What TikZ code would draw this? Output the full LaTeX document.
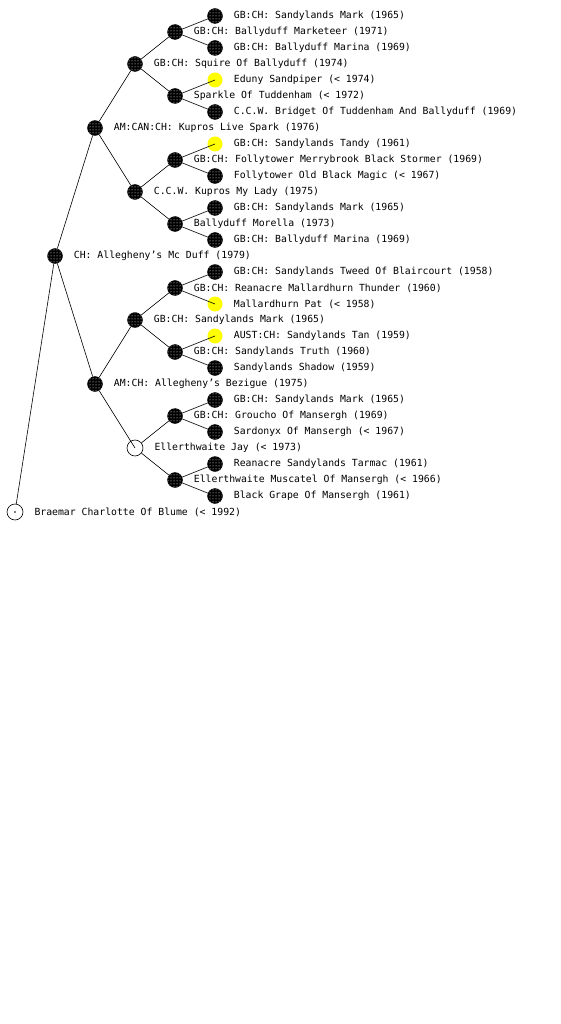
\documentclass[tikz,border=0pt]{standalone}
\usepackage{fontspec}
\newfontfamily\pedfont{DejaVu Sans Mono}
\usepackage{tikz}
\usetikzlibrary{positioning,patterns}
\usepackage{xcolor}
\definecolor{hiyellow}{RGB}{255,255,0}
\definecolor{dogblack}{RGB}{0,0,0}

\begin{document}
\begin{tikzpicture}[x=1pt,y=-1pt,
  dog/.style={circle,draw=dogblack,fill=dogblack,inner sep=0pt,minimum size=15pt,
    postaction={pattern=dots,pattern color=white}},
  dogy/.style={circle,fill=hiyellow,inner sep=0pt,minimum size=15pt},
  dogo/.style={circle,draw=dogblack,fill=white,inner sep=0pt,minimum size=16pt,line width=0.6pt},
  lbl/.style={font=\pedfont\fontsize{9.8}{12}\selectfont,inner sep=0pt,xshift=11pt},
  link/.style={dogblack,line width=0.6pt}
]
\useasboundingbox (0,0) rectangle (560,1024);

% Root
\node[dogo,label={[lbl]right:Braemar Charlotte Of Blume (< 1992)}] (r) at (15,512) {};
\fill[dogblack] (r.center) circle (0.8pt);

% Generation 1 and 2
\node[dog,label={[lbl]right:CH: Allegheny’s Mc Duff (1979)}] (s) at (55,256) {};
\node[dog,label={[lbl]right:AM:CAN:CH: Kupros Live Spark (1976)}] (ss) at (95,128) {};
\node[dog,label={[lbl]right:AM:CH: Allegheny’s Bezigue (1975)}] (sd) at (95,384) {};

% Generation 3
\node[dog,label={[lbl]right:GB:CH: Squire Of Ballyduff (1974)}] (sss) at (135,64) {};
\node[dog,label={[lbl]right:C.C.W. Kupros My Lady (1975)}] (ssd) at (135,192) {};
\node[dog,label={[lbl]right:GB:CH: Sandylands Mark (1965)}] (sds) at (135,320) {};
\node[dogo,label={[lbl]right:Ellerthwaite Jay (< 1973)}] (sdd) at (135,448) {};

% Generation 4
\node[dog,label={[lbl]right:GB:CH: Ballyduff Marketeer (1971)}] (ssss) at (175,32) {};
\node[dog,label={[lbl]right:Sparkle Of Tuddenham (< 1972)}] (sssd) at (175,96) {};
\node[dog,label={[lbl]right:GB:CH: Follytower Merrybrook Black Stormer (1969)}] (ssds) at (175,160) {};
\node[dog,label={[lbl]right:Ballyduff Morella (1973)}] (ssdd) at (175,224) {};
\node[dog,label={[lbl]right:GB:CH: Reanacre Mallardhurn Thunder (1960)}] (sdss) at (175,288) {};
\node[dog,label={[lbl]right:GB:CH: Sandylands Truth (1960)}] (sdsd) at (175,352) {};
\node[dog,label={[lbl]right:GB:CH: Groucho Of Mansergh (1969)}] (sdds) at (175,416) {};
\node[dog,label={[lbl]right:Ellerthwaite Muscatel Of Mansergh (< 1966)}] (sddd) at (175,480) {};

% Generation 5
\node[dog,label={[lbl]right:GB:CH: Sandylands Mark (1965)}] (sssss) at (215,16) {};
\node[dog,label={[lbl]right:GB:CH: Ballyduff Marina (1969)}] (ssssd) at (215,48) {};
\node[dogy,label={[lbl]right:Eduny Sandpiper (< 1974)}] (sssds) at (215,80) {};
\node[dog,label={[lbl]right:C.C.W. Bridget Of Tuddenham And Ballyduff (1969)}] (sssdd) at (215,112) {};
\node[dogy,label={[lbl]right:GB:CH: Sandylands Tandy (1961)}] (ssdss) at (215,144) {};
\node[dog,label={[lbl]right:Follytower Old Black Magic (< 1967)}] (ssdsd) at (215,176) {};
\node[dog,label={[lbl]right:GB:CH: Sandylands Mark (1965)}] (ssdds) at (215,208) {};
\node[dog,label={[lbl]right:GB:CH: Ballyduff Marina (1969)}] (ssddd) at (215,240) {};
\node[dog,label={[lbl]right:GB:CH: Sandylands Tweed Of Blaircourt (1958)}] (sdsss) at (215,272) {};
\node[dogy,label={[lbl]right:Mallardhurn Pat (< 1958)}] (sdssd) at (215,304) {};
\node[dogy,label={[lbl]right:AUST:CH: Sandylands Tan (1959)}] (sdsds) at (215,336) {};
\node[dog,label={[lbl]right:Sandylands Shadow (1959)}] (sdsdd) at (215,368) {};
\node[dog,label={[lbl]right:GB:CH: Sandylands Mark (1965)}] (sddss) at (215,400) {};
\node[dog,label={[lbl]right:Sardonyx Of Mansergh (< 1967)}] (sddsd) at (215,432) {};
\node[dog,label={[lbl]right:Reanacre Sandylands Tarmac (1961)}] (sddds) at (215,464) {};
\node[dog,label={[lbl]right:Black Grape Of Mansergh (1961)}] (sdddd) at (215,496) {};

% Links to black markers
\foreach \p/\c in {r/s, s/ss, s/sd, ss/sss, ss/ssd, sd/sds,
    sss/ssss, sss/sssd, ssd/ssds, ssd/ssdd, sds/sdss, sds/sdsd, sdd/sdds, sdd/sddd,
    ssss/sssss, ssss/ssssd, sssd/sssdd, ssds/ssdsd, ssdd/ssdds, ssdd/ssddd,
    sdss/sdsss, sdsd/sdsdd, sdds/sddss, sdds/sddsd, sddd/sddds, sddd/sdddd}
  \draw[link] (\p) -- (\c);

% Links into yellow and open markers
\foreach \p/\c in {sd/sdd, sssd/sssds, ssds/ssdss, sdss/sdssd, sdsd/sdsds}
  \draw[link] (\p) -- (\c.center);

\end{tikzpicture}
\end{document}
